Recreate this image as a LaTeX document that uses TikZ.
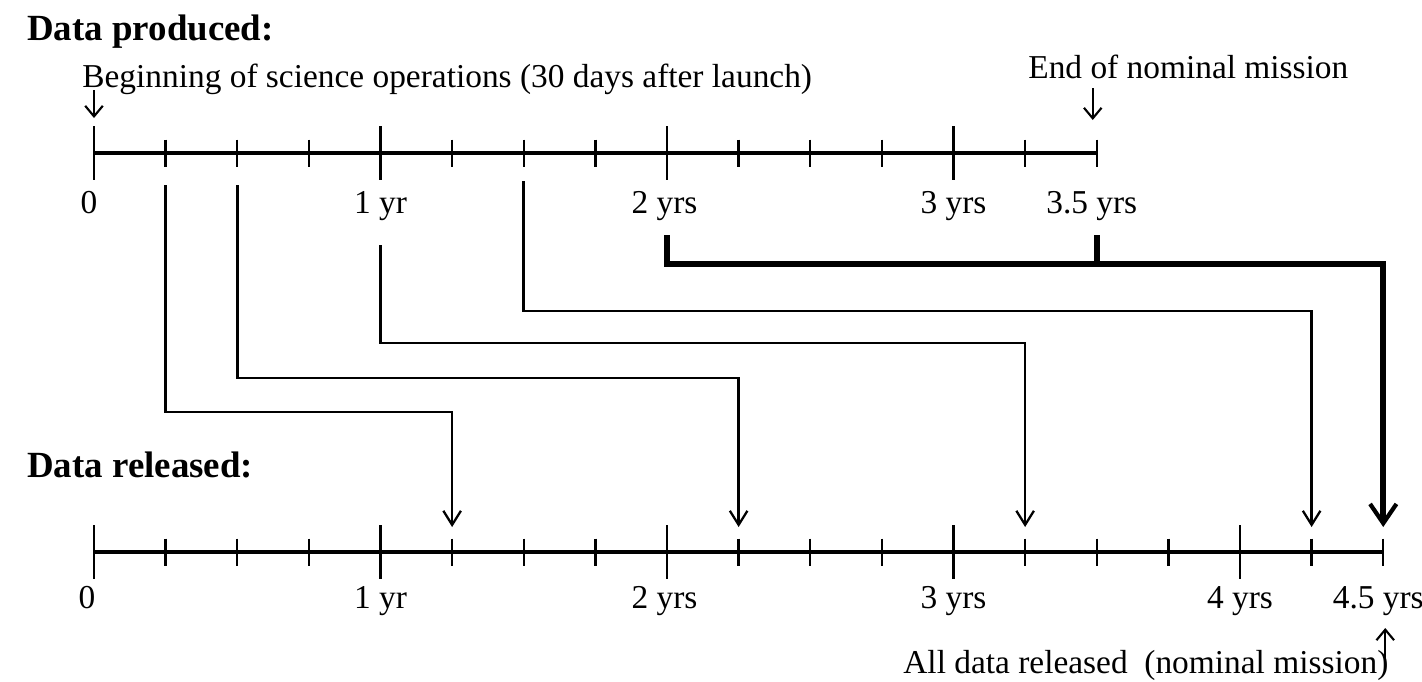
\documentclass[tikz,border=0pt]{standalone}
\usepackage{fontspec}
\setmainfont{Liberation Serif}
\usetikzlibrary{arrows.meta}

\def\qtrLen{1.4325}
\def\axisGap{7.98}
\def\bigTick{0.54}
\def\smallTick{0.27}
\def\topLabelDrop{1.2}
\def\botLabelDrop{1.12}
\def\arrowLift{0.5}

\tikzset{
    axisline/.style = {line width = 2pt},
    tickline/.style = {line width = 1.4pt},
    feed/.style = {line width = 1.5pt, -{Straight Barb[length = 8pt, width = 10pt, line width = 1.3pt]}},
    bigfeed/.style = {line width = 3.2pt},
    marker/.style = {line width = 1.2pt, -{Straight Barb[length = 6pt, width = 10pt]}},
    ticklabel/.style = {font = \fontsize{19}{22}\selectfont, inner sep = 0pt, anchor = base},
    caption/.style = {font = \fontsize{19}{22}\selectfont, inner sep = 0pt, anchor = base west},
    heading/.style = {font = \fontsize{21}{24}\selectfont\bfseries, inner sep = 0pt, anchor = base west},
}

\begin{document}
\begin{tikzpicture}
            \useasboundingbox (-1.88,3.06) rectangle (26.56,-10.56);
            %% produced axis
            \draw [axisline]
            (0,0) coordinate (prodstart)
            -- ++({14*\qtrLen},0) coordinate (prodend)
            ;
            \foreach \q [evaluate = \q as \m using {int(mod(\q,4))}] in {0,...,14} {
                \ifnum\m=0 \def\tk{\bigTick}\else\def\tk{\smallTick}\fi
                \draw [tickline]
                (prodstart) ++({\q*\qtrLen},0) coordinate (p\q)
                +(0,\tk) -- +(0,-\tk)
                ;
            }
            %% released axis
            \draw [axisline]
            (0,-\axisGap) coordinate (relstart)
            -- ++({18*\qtrLen},0) coordinate (relend)
            ;
            \foreach \q [evaluate = \q as \m using {int(mod(\q,4))}] in {0,...,18} {
                \ifnum\m=0 \def\tk{\bigTick}\else\def\tk{\smallTick}\fi
                \draw [tickline]
                (relstart) ++({\q*\qtrLen},0) coordinate (r\q)
                +(0,\tk) -- +(0,-\tk)
                +(0,\arrowLift) coordinate (t\q)
                ;
            }
            %% labels
            \foreach \q/\txt/\dx in {0/0/-0.1, 4/1 yr/0, 8/2 yrs/-0.05, 12/3 yrs/0, 14/3.5 yrs/-0.1} {
                \path (p\q) ++(\dx,-\topLabelDrop) node [ticklabel] (plab\q) {\txt};
            }
            \foreach \q/\txt/\dx in {0/0/-0.14, 4/1 yr/0, 8/2 yrs/-0.05, 12/3 yrs/0, 16/4 yrs/0, 18/4.5 yrs/-0.1} {
                \path (r\q) ++(\dx,-\botLabelDrop) node [ticklabel] (rlab\q) {\txt};
            }
            \node [heading] (produced) at (-1.34,2.26) {Data produced:};
            \node [heading] (released) at (-1.34,-6.48) {Data released:};
            \node [caption] (begin) at (-0.24,1.32) {Beginning of science operations (30 days after launch)};
            \node [caption] (nominal) at (18.68,1.5) {End of nominal mission};
            \node [caption] (alldata) at (16.18,-10.4) {All data released\ \ (nominal mission)};
            %% markers
            \draw (p0) ++(0,1.26) coordinate (beginfoot);
            \draw (p14) ++(-0.08,1.3) coordinate (nominalfoot);
            \draw (r18) ++(0.04,-2.16) coordinate (alldatahead);
            \draw [marker] (beginfoot) -- (beginfoot |- 0,0.7);
            \draw [marker] (nominalfoot) -- (nominalfoot |- 0,0.66);
            \draw [marker] (alldatahead) -- (alldatahead |- 0,-9.5);
            %% feeds
            \foreach \from/\to/\drop/\row in {1/5/0.64/5.18, 2/9/0.64/4.5, 4/13/1.84/3.8, 6/17/0.56/3.16} {
                \draw [feed]
                (p\from) ++(0,-\drop) coordinate (feedtop\from)
                (feedtop\from) -- (feedtop\from |- 0,-\row) -| (t\to)
                ;
            }
            \draw (p8) ++(0,-1.64) coordinate (twotop);
            \draw (p14) ++(0,-1.64) coordinate (endtop);
            \draw (twotop |- 0,-2.22) coordinate (bend);
            \draw [bigfeed, -{Straight Barb[length = 11pt, width = 15pt, line width = 2.4pt]}]
            (twotop) -- (bend) -| (t18)
            ;
            \draw [bigfeed] (endtop) -- (endtop |- bend);
\end{tikzpicture}
\end{document}
